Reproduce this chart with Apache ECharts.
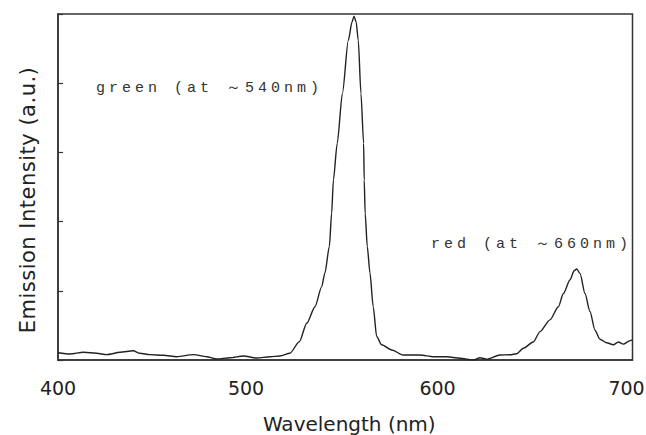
<!DOCTYPE html>
<html>
<head>
<meta charset="utf-8">
<script src="https://cdn.jsdelivr.net/npm/echarts@6/dist/echarts.min.js"></script>
<style>
html,body{margin:0;padding:0;background:#fff;}
#chart{width:646px;height:435px;}
</style>
</head>
<body>
<div id="chart"></div>
<script>
// ---- data ----
const wavelengths = [400, 406.3, 413.2, 420.2, 425.4, 432.4, 439.3, 442.8, 448.0, 455.0, 462.0, 470.7, 477.7, 482.9, 489.8, 496.8, 503.8, 510.7, 515.9, 521.1, 526.0, 529.9, 534.2, 537.7, 539.4, 541.7, 542.9, 543.8, 545.8, 548.5, 551.6, 553.5, 554.6, 555.7, 556.8, 558.2, 559.6, 559.9, 560.4, 561.5, 562.9, 564.6, 566.4, 569.0, 574.3, 580.2, 589.0, 596.0, 603.0, 609.9, 616.9, 620.4, 623.9, 630.8, 636.0, 639.5, 643.0, 648.2, 651.7, 656.9, 661.3, 663.9, 667.4, 669.5, 670.9, 672.6, 675.2, 677.8, 680.4, 683.0, 686.5, 690.0, 692.6, 695.2, 698.7, 700];
const intensity   = [0.105, 0.087, 0.111, 0.097, 0.077, 0.111, 0.134, 0.097, 0.077, 0.068, 0.048, 0.077, 0.048, 0.014, 0.033, 0.058, 0.029, 0.048, 0.058, 0.097, 0.264, 0.53, 0.77, 1.06, 1.26, 1.64, 2.12, 2.60, 3.13, 3.85, 4.62, 4.88, 4.97, 4.88, 4.62, 3.85, 3.13, 2.60, 2.12, 1.64, 1.26, 0.77, 0.34, 0.22, 0.145, 0.072, 0.072, 0.048, 0.048, 0.025, 0.0, 0.033, 0.01, 0.072, 0.075, 0.09, 0.17, 0.26, 0.41, 0.58, 0.77, 0.96, 1.16, 1.29, 1.315, 1.25, 0.96, 0.70, 0.43, 0.30, 0.25, 0.22, 0.26, 0.23, 0.28, 0.29];
const xTickLabels = [400, 500, 600, 700];
const xTitle = 'Wavelength (nm)';
const yTitle = 'Emission Intensity (a.u.)';
const annotGreen = 'green (at ～540nm)';
const annotRed = 'red (at ～660nm)';

const seriesData = wavelengths.map((w, i) => [w, intensity[i]]);
const chart = echarts.init(document.getElementById('chart'), null, {renderer: 'svg'});
const axisColor = '#333';
const tickFont = {fontFamily: 'DejaVu Sans', fontSize: 19, color: '#222'};
chart.setOption({
  animation: false,
  backgroundColor: '#fff',
  grid: {left: 58, right: 13.5, top: 14, bottom: 75, show: true, borderColor: axisColor, borderWidth: 1.5,
    backgroundColor: 'transparent', containLabel: false, outerBoundsMode: 'none'},
  xAxis: {
    type: 'value', min: 400, max: 700, interval: 100,
    name: xTitle, nameLocation: 'middle', nameGap: 54,
    nameTextStyle: {fontFamily: 'DejaVu Sans', fontSize: 20, color: '#222', padding: [0, 0, 0, 8]},
    axisLine: {show: true, lineStyle: {color: axisColor, width: 1.5}},
    axisTick: {show: false},
    splitLine: {show: false},
    axisLabel: {fontFamily: 'DejaVu Sans', fontSize: 19, color: '#222', margin: 18, hideOverlap: false,
      formatter: v => {
        if (!xTickLabels.includes(v)) return '';
        if (v === xTickLabels[0]) return '{a|' + v + '}';
        if (v === xTickLabels[xTickLabels.length - 1]) return '{e|' + v + '}';
        return '{n|' + v + '}';
      },
      rich: {
        a: Object.assign({padding: [0, 0, 0, 0]}, tickFont),
        n: Object.assign({padding: [0, 7, 0, 0]}, tickFont),
        e: Object.assign({padding: [0, 12, 0, 0]}, tickFont)
      }
    }
  },
  yAxis: {
    type: 'value', min: 0, max: 5, interval: 1,
    name: yTitle, nameLocation: 'middle', nameGap: 20,
    nameTextStyle: {fontFamily: 'DejaVu Sans', fontSize: 21, color: '#222', padding: [0, 26, 0, 0]},
    axisLine: {show: true, lineStyle: {color: axisColor, width: 1.5}},
    axisTick: {show: true, inside: true, length: 5, lineStyle: {color: axisColor, width: 1.2}},
    axisLabel: {show: false},
    splitLine: {show: false}
  },
  graphic: [
    {type: 'text', x: 96, y: 88, style: {text: annotGreen, fontFamily: 'Liberation Mono', fontSize: 15, fill: '#333', textAlign: 'left', textVerticalAlign: 'middle'}},
    {type: 'text', x: 431, y: 244, style: {text: annotRed, fontFamily: 'Liberation Mono', fontSize: 15, fill: '#333', textAlign: 'left', textVerticalAlign: 'middle'}}
  ],
  series: [{
    type: 'line', data: seriesData, showSymbol: false, smooth: 0.25, smoothMonotone: 'x',
    lineStyle: {color: '#222', width: 1.4}
  }]
});
// letter spacing: typewriter-like annotations, slightly airy axis titles (as in the original)
document.querySelectorAll('#chart svg text').forEach(t => {
  const s = t.textContent;
  if (s === annotGreen || s === annotRed) t.setAttribute('letter-spacing', '4px');
  else if (s === yTitle) t.setAttribute('letter-spacing', '0.5px');
});
</script>
</body>
</html>
